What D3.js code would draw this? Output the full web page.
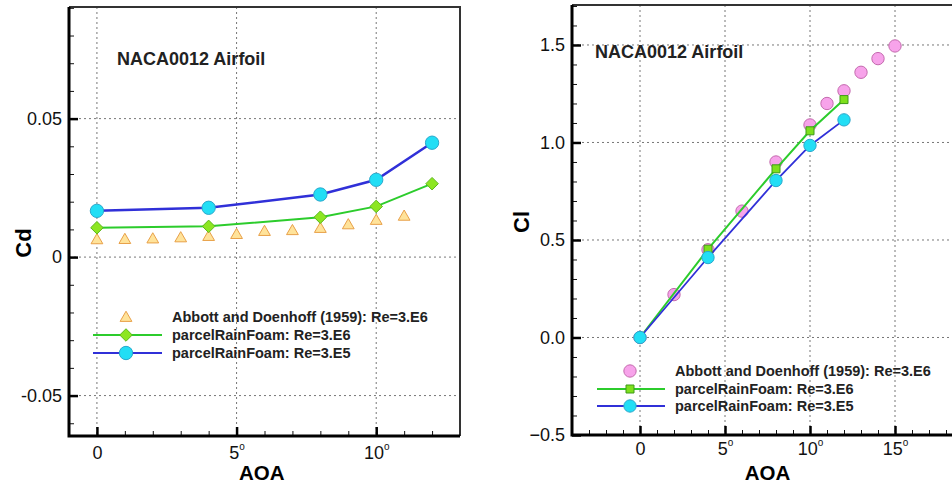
<!DOCTYPE html>
<html>
<head>
<meta charset="utf-8">
<script src="https://cdn.jsdelivr.net/npm/d3@7"></script>
<style>
    body { margin: 0; background: #fff; }
    svg { display: block; font-family: "Liberation Sans", Arial, sans-serif; }
    .grid line { stroke: #777; stroke-width: 1; stroke-dasharray: 2,3; }
    .tick text { font-size: 18px; fill: #111; }
</style>
</head>
<body>
<svg id="canvas" width="952" height="486"></svg>
<script>
// ---- data ----
let cdAoaExp = [0, 1, 2, 3, 4, 5, 6, 7, 8, 9, 10, 11]
let cdExp = [0.0064, 0.0065, 0.0067, 0.0071, 0.0076, 0.0083, 0.0094, 0.0097, 0.0105, 0.0118, 0.0134, 0.0149]

let simAoa = [0, 4, 8, 10, 12]
let cdRe6 = [0.0106, 0.0111, 0.0144, 0.0183, 0.0265]
let cdRe5 = [0.0167, 0.0178, 0.0226, 0.0279, 0.0413]

let clAoaExp = [0, 2, 4, 6, 8, 10, 11, 12, 13, 14, 15]
let clExp = [0, 0.22, 0.45, 0.648, 0.90, 1.09, 1.20, 1.265, 1.36, 1.43, 1.495]
let clRe6 = [0, 0.453, 0.865, 1.06, 1.22]
let clRe5 = [0, 0.41, 0.805, 0.985, 1.116]

let cdTicks = [-0.05, 0, 0.05]
let cdTickLabels = ['-0.05', '0', '0.05']
let clTicks = [-0.5, 0, 0.5, 1.0, 1.5]
let cdAoaTicks = [0, 5, 10]
let clAoaTicks = [0, 5, 10, 15]

let legendLabels = ['Abbott and Doenhoff (1959): Re=3.E6', 'parcelRainFoam: Re=3.E6', 'parcelRainFoam: Re=3.E5']
let title = 'NACA0012 Airfoil'

let canvas = d3.select('#canvas')

let blue = '#3030d8'
let green = '#2ccc2c'

let drawPanel = (p) => {
    let g = canvas.append('g').attr('transform', 'translate(' + p.left + ',' + p.top + ')')
    let x = d3.scaleLinear().domain(p.xDomain).range([0, p.width])
    let y = d3.scaleLinear().domain(p.yDomain).range([p.height, 0])

    // grid
    let grid = g.append('g').attr('class', 'grid')
    grid.selectAll('.gx').data(p.xTicks).enter().append('line')
        .attr('x1', d => x(d)).attr('x2', d => x(d)).attr('y1', 0).attr('y2', p.height)
    grid.selectAll('.gy').data(p.yTicks).enter().append('line')
        .attr('y1', d => y(d)).attr('y2', d => y(d)).attr('x1', 0).attr('x2', p.width)

    // minor ticks
    g.append('g').call(d3.axisLeft(y).tickValues(p.yMinor).tickSize(-5).tickFormat(''))
        .call(a => a.select('.domain').remove())
        .selectAll('line').attr('stroke', '#111').attr('stroke-width', 1)
    g.append('g').attr('transform', 'translate(0,' + p.height + ')')
        .call(d3.axisBottom(x).tickValues(p.xMinor).tickSize(-5).tickFormat(''))
        .call(a => a.select('.domain').remove())
        .selectAll('line').attr('stroke', '#111').attr('stroke-width', 1)

    // major ticks with labels
    let yAxis = g.append('g')
        .call(d3.axisLeft(y).tickValues(p.yTicks).tickSize(-9).tickPadding(7).tickFormat((d, i) => p.yFormat(d, i)))
    yAxis.select('.domain').remove()
    yAxis.selectAll('line').attr('stroke', '#000').attr('stroke-width', 2.5)

    let xAxis = g.append('g').attr('transform', 'translate(0,' + p.height + ')')
        .call(d3.axisBottom(x).tickValues(p.xTicks).tickSize(-9).tickPadding(12).tickFormat(''))
    xAxis.select('.domain').remove()
    xAxis.selectAll('line').attr('stroke', '#000').attr('stroke-width', 2.5)
    xAxis.selectAll('.tick').append('text')
        .attr('fill', '#111').attr('y', p.xLabelDy).attr('text-anchor', 'middle')
        .each(function (d) {
            let t = d3.select(this)
            t.append('tspan').text(d)
            if (d !== 0) {
                t.append('tspan').text('o').attr('font-size', 10).attr('dy', -9)
            }
        })

    // frame
    g.append('path')
        .attr('d', 'M0,0H' + p.width + 'V' + p.height)
        .attr('fill', 'none').attr('stroke', '#333').attr('stroke-width', 2)
    g.append('path')
        .attr('d', 'M0,0V' + p.height + 'H' + p.width)
        .attr('fill', 'none').attr('stroke', '#000').attr('stroke-width', 3)

    // axis titles
    canvas.append('text')
        .attr('x', p.left + x(p.xLabelAt)).attr('y', 480)
        .attr('text-anchor', 'middle').attr('font-size', 20.5).attr('font-weight', 'bold')
        .text('AOA')
    canvas.append('text')
        .attr('transform', 'translate(' + p.yLabelX + ',' + p.yLabelY + ') rotate(-90)')
        .attr('text-anchor', 'middle').attr('font-size', 22).attr('font-weight', 'bold')
        .text(p.yLabel)

    g.append('text')
        .attr('x', p.titleX).attr('y', p.titleY)
        .attr('font-size', 18).attr('font-weight', 'bold').attr('fill', '#222')
        .text(title)

    return { g: g, x: x, y: y }
}

let symbol = (g, type, size, cx, cy, fill, stroke) => {
    g.append('path')
        .attr('d', d3.symbol().type(type).size(size)())
        .attr('transform', 'translate(' + cx + ',' + cy + ')')
        .attr('fill', fill).attr('stroke', stroke).attr('stroke-width', 1)
}

// ---------- left: Cd ----------
let left = drawPanel({
    left: 69, top: 7, width: 391, height: 429,
    xDomain: [-1, 13], yDomain: [-0.0646, 0.0903],
    xTicks: cdAoaTicks, yTicks: cdTicks,
    xMinor: d3.range(-1, 14), yMinor: d3.range(-6, 10).map(d => d / 100),
    yFormat: (d, i) => cdTickLabels[i],
    xLabelAt: 5.9, xLabelDy: 23, yLabel: 'Cd', yLabelX: 31, yLabelY: 243,
    titleX: 48, titleY: 58
})

let lineGen = (x, y) => d3.line().x(d => x(d[0])).y(d => y(d[1]))

let triFill = '#ffe39a', triStroke = '#e8a048'
let diaFill = '#8de622', diaStroke = '#5cb81c'
let cirFill = '#22def5', cirStroke = '#2aa8cc'

cdAoaExp.forEach((a, i) => {
    symbol(left.g, d3.symbolTriangle, 60, left.x(a), left.y(cdExp[i]) + 1, triFill, triStroke)
})
left.g.append('path').datum(d3.zip(simAoa, cdRe6))
    .attr('d', lineGen(left.x, left.y)).attr('fill', 'none').attr('stroke', green).attr('stroke-width', 2)
left.g.append('path').datum(d3.zip(simAoa, cdRe5))
    .attr('d', lineGen(left.x, left.y)).attr('fill', 'none').attr('stroke', blue).attr('stroke-width', 2.5)
simAoa.forEach((a, i) => {
    symbol(left.g, d3.symbolDiamond2, 100, left.x(a), left.y(cdRe6[i]), diaFill, diaStroke)
})
simAoa.forEach((a, i) => {
    symbol(left.g, d3.symbolCircle, 140, left.x(a), left.y(cdRe5[i]), cirFill, cirStroke)
})

// left legend
let legL = canvas.append('g').attr('font-size', 14.5).attr('font-weight', 'bold').attr('fill', '#222')
let legLRows = [317, 335, 353]
symbol(legL, d3.symbolTriangle, 60, 126, legLRows[0] + 1, triFill, triStroke)
legL.append('line').attr('x1', 93).attr('x2', 162).attr('y1', legLRows[1]).attr('y2', legLRows[1]).attr('stroke', green).attr('stroke-width', 2)
symbol(legL, d3.symbolDiamond2, 100, 126, legLRows[1], diaFill, diaStroke)
legL.append('line').attr('x1', 93).attr('x2', 162).attr('y1', legLRows[2]).attr('y2', legLRows[2]).attr('stroke', blue).attr('stroke-width', 2)
symbol(legL, d3.symbolCircle, 140, 126, legLRows[2], cirFill, cirStroke)
legendLabels.forEach((t, i) => {
    legL.append('text').attr('x', 172).attr('y', legLRows[i] + 5).text(t)
})

// ---------- right: Cl ----------
let right = drawPanel({
    left: 572, top: 5, width: 408, height: 430,
    xDomain: [-4, 20], yDomain: [-0.5, 1.705],
    xTicks: clAoaTicks, yTicks: clTicks,
    xMinor: d3.range(-4, 21), yMinor: d3.range(-5, 18).map(d => d / 10),
    yFormat: d => d3.format('.1f')(d),
    xLabelAt: 7.5, xLabelDy: 20, yLabel: 'Cl', yLabelX: 529, yLabelY: 222,
    titleX: 23, titleY: 53
})

let pinkFill = '#f7a3ea', pinkStroke = '#c46aae'
let sqFill = '#7ee01c', sqStroke = '#3f9a18'

clAoaExp.forEach((a, i) => {
    symbol(right.g, d3.symbolCircle, 120, right.x(a), right.y(clExp[i]), pinkFill, pinkStroke)
})
right.g.append('path').datum(d3.zip(simAoa, clRe6))
    .attr('d', lineGen(right.x, right.y)).attr('fill', 'none').attr('stroke', green).attr('stroke-width', 2)
right.g.append('path').datum(d3.zip(simAoa, clRe5))
    .attr('d', lineGen(right.x, right.y)).attr('fill', 'none').attr('stroke', blue).attr('stroke-width', 1.8)
simAoa.forEach((a, i) => {
    symbol(right.g, d3.symbolSquare, 64, right.x(a), right.y(clRe6[i]), sqFill, sqStroke)
})
simAoa.forEach((a, i) => {
    symbol(right.g, d3.symbolCircle, 120, right.x(a), right.y(clRe5[i]), cirFill, cirStroke)
})

// right legend
let legR = canvas.append('g').attr('font-size', 14.5).attr('font-weight', 'bold').attr('fill', '#222')
let legRRows = [371, 389, 406]
symbol(legR, d3.symbolCircle, 120, 630, legRRows[0], pinkFill, pinkStroke)
legR.append('line').attr('x1', 597).attr('x2', 665).attr('y1', legRRows[1]).attr('y2', legRRows[1]).attr('stroke', green).attr('stroke-width', 2)
symbol(legR, d3.symbolSquare, 64, 630, legRRows[1], sqFill, sqStroke)
legR.append('line').attr('x1', 597).attr('x2', 665).attr('y1', legRRows[2]).attr('y2', legRRows[2]).attr('stroke', blue).attr('stroke-width', 1.8)
symbol(legR, d3.symbolCircle, 120, 630, legRRows[2], cirFill, cirStroke)
legendLabels.forEach((t, i) => {
    legR.append('text').attr('x', 675).attr('y', legRRows[i] + 5).text(t)
})
</script>
</body>
</html>
